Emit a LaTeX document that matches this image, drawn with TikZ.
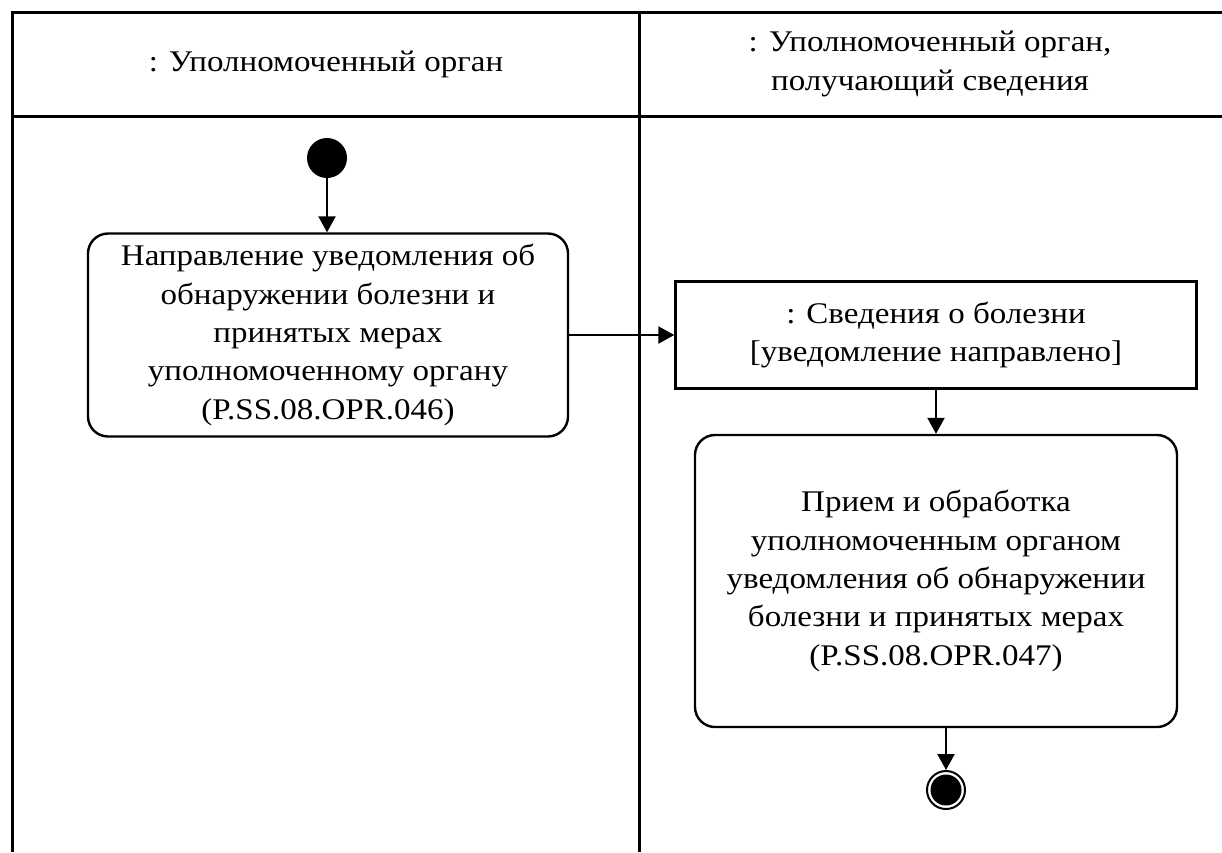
\documentclass[tikz,border=0pt]{standalone}
\usepackage{fontspec}
\setmainfont[FakeStretch=1.1]{Liberation Serif}
\usetikzlibrary{arrows.meta}
\usetikzlibrary{positioning}
\tikzset{>={Triangle[length=16pt,width=17pt]}}

\begin{document}
\begin{tikzpicture}[x=1pt, y=-1pt, line width=2.4pt,
    lbl/.style={align=center, font=\fontsize{30}{38.3}\selectfont},
    act/.style={lbl, draw, rounded corners=20pt, inner sep=0pt},
    obj/.style={lbl, draw, inner sep=0pt},
    flow/.style={->, line width=2.2pt}]
        \useasboundingbox (0, 0) rectangle (1222, 852);
        % lanes
        \draw[line width=3pt] (12, 852) -- (12, 12) -- (1222, 12);
        \draw[line width=3pt] (12, 116) -- (1222, 116);
        \draw[line width=3pt] (639, 12) -- (639, 852);
        \node[lbl] (laneA) at (326, 64) {: Уполномоченный орган};
        \node[lbl] (laneB) at (930, 64) {: Уполномоченный орган,\\получающий сведения};
        % node
        \fill (327, 158) circle (20pt) coordinate (start);
        \node[act, minimum width=480pt, minimum height=203pt] (send) at (328, 335)
          {Направление уведомления об\\обнаружении болезни и\\принятых мерах\\уполномоченному органу\\(P.SS.08.OPR.046)};
        \node[obj, minimum width=521pt, minimum height=107pt] (info) at (936, 335)
          {: Сведения о болезни\\{[}уведомление направлено{]}};
        \node[act, minimum width=482pt, minimum height=292pt] (recv) at (936, 581)
          {Прием и обработка\\уполномоченным органом\\уведомления об обнаружении\\болезни и принятых мерах\\(P.SS.08.OPR.047)};
        \node[circle, draw, line width=2pt, minimum size=38pt, inner sep=0pt] (final) at (946, 790) {};
        \fill (final) circle (15.5pt);
        % lines
        \draw[flow] (327, 178) -- (send.north -| start);
        \draw[flow] (send.east) -- (info.west);
        \draw[flow] (info.south) -- (recv.north);
        \draw[flow] (recv.south -| final) -- (final.north);
\end{tikzpicture}
\end{document}
